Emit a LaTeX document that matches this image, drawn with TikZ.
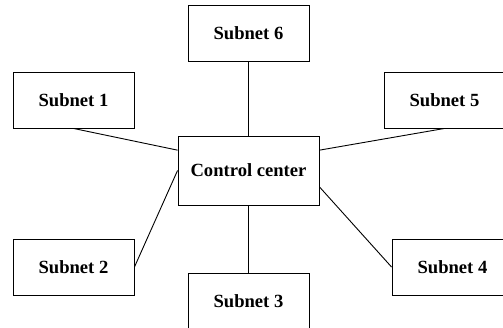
\documentclass[tikz,border=0pt]{standalone}
\usepackage{fontspec}
\setmainfont{Liberation Serif}
\begin{document}
\begin{tikzpicture}[x=1pt,y=-1pt,
    subnet/.style={draw, line width=0.9pt, minimum width=121pt, minimum height=56pt,
      inner sep=0pt, font=\fontsize{18.6}{22}\selectfont\bfseries},
    hub/.style={subnet, minimum width=141pt, minimum height=69pt}]
  \useasboundingbox (0,0) rectangle (503,327);
  \draw
    (248.5,170.5) node[hub] (cc){Control center}
    (73.5,100) node[subnet] (1){Subnet 1}
    (73.5,267) node[subnet] (2){Subnet 2}
    (248.5,301) node[subnet] (3){Subnet 3}
    (452.5,267) node[subnet] (4){Subnet 4}
    (444.5,100) node[subnet] (5){Subnet 5}
    (248.5,33) node[subnet] (6){Subnet 6};
  \begin{scope}[-, line width=0.9pt]
    \draw (1.south) to (cc.164);
    \draw (2.east) to (cc.west);
    \draw (3.north) to (cc.south);
    \draw (4.west) to (cc.-13);
    \draw (5.south) to (cc.16);
    \draw (6.south) to (cc.north);
  \end{scope}
\end{tikzpicture}
\end{document}
